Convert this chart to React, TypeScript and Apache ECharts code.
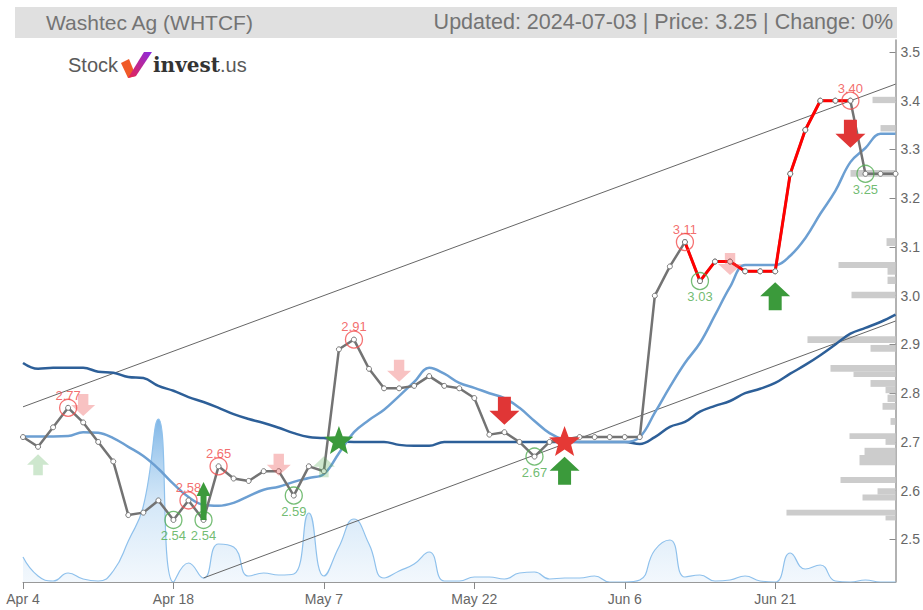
import React, { useEffect, useRef } from "react";
import * as echarts from "echarts";

// ---- data ----
const dates = [
  "Apr 4", "Apr 5", "Apr 8", "Apr 9", "Apr 10", "Apr 11", "Apr 12", "Apr 15", "Apr 16", "Apr 17",
  "Apr 18", "Apr 19", "Apr 22", "Apr 23", "Apr 24", "Apr 25", "Apr 26", "Apr 29", "Apr 30", "May 6",
  "May 7", "May 8", "May 9", "May 10", "May 13", "May 14", "May 15", "May 16", "May 17", "May 21",
  "May 22", "May 23", "May 24", "May 28", "May 29", "May 30", "May 31", "Jun 3", "Jun 4", "Jun 5",
  "Jun 6", "Jun 7", "Jun 10", "Jun 11", "Jun 12", "Jun 13", "Jun 14", "Jun 17", "Jun 18", "Jun 20",
  "Jun 21", "Jun 24", "Jun 25", "Jun 26", "Jun 27", "Jun 28", "Jul 1", "Jul 2", "Jul 3",
];

const price = [
  2.71, 2.69, 2.73, 2.77, 2.74, 2.70, 2.66, 2.55, 2.555, 2.58,
  2.54, 2.58, 2.54, 2.65, 2.625, 2.62, 2.64, 2.64, 2.59, 2.65,
  2.64, 2.89, 2.91, 2.85, 2.81, 2.81, 2.815, 2.835, 2.815, 2.81,
  2.79, 2.715, 2.72, 2.70, 2.67, 2.70, 2.705, 2.71, 2.71, 2.71,
  2.71, 2.71, 3.00, 3.06, 3.11, 3.03, 3.07, 3.07, 3.05, 3.05,
  3.05, 3.25, 3.34, 3.40, 3.40, 3.40, 3.25, 3.25, 3.25,
];

const maShort = [
  2.711, 2.711, 2.711, 2.712, 2.72, 2.719, 2.708, 2.69, 2.671, 2.645,
  2.614, 2.587, 2.571, 2.569, 2.575, 2.589, 2.602, 2.608, 2.618, 2.626,
  2.634, 2.677, 2.72, 2.745, 2.766, 2.794, 2.823, 2.852, 2.84, 2.821,
  2.811, 2.80, 2.79, 2.77, 2.743, 2.718, 2.704, 2.70, 2.70, 2.70,
  2.70, 2.71, 2.76, 2.813, 2.862, 2.903, 2.96, 3.018, 3.063, 3.063,
  3.063, 3.082, 3.118, 3.168, 3.215, 3.274, 3.303, 3.332, 3.332,
];

const maLong = [
  2.862, 2.85, 2.852, 2.852, 2.852, 2.844, 2.842, 2.833, 2.831, 2.815,
  2.805, 2.792, 2.782, 2.77, 2.757, 2.747, 2.739, 2.729, 2.718, 2.71,
  2.708, 2.702, 2.70, 2.70, 2.70, 2.694, 2.692, 2.692, 2.70, 2.70,
  2.70, 2.70, 2.70, 2.70, 2.70, 2.70, 2.70, 2.70, 2.70, 2.70,
  2.70, 2.696, 2.71, 2.731, 2.741, 2.762, 2.774, 2.784, 2.80, 2.809,
  2.821, 2.84, 2.858, 2.878, 2.90, 2.922, 2.934, 2.946, 2.961,
];

const volume = [
  2500, 600, 100, 900, 300, 100, 1100, 4100, 7600, 16300,
  0, 1900, 400, 3800, 3500, 600, 900, 700, 800, 6900,
  600, 3500, 6300, 3800, 400, 1100, 1800, 3000, 100, 100,
  500, 500, 300, 900, 1000, 300, 400, 400, 600, 0,
  0, 200, 3200, 4200, 500, 700, 100, 200, 600, 100,
  0, 2900, 1300, 1700, 100, 0, 200, 0, 0,
];

// volume-by-price profile
const profileLow = [
  3.395, 3.337, 3.244, 3.102, 3.057, 3.043, 3.024, 2.995, 2.903, 2.885,
  2.844, 2.833, 2.813, 2.800, 2.782, 2.766, 2.735, 2.706, 2.694, 2.673,
  2.652, 2.616, 2.592, 2.580, 2.549, 2.539,
];
const profileHigh = [
  3.408, 3.350, 3.258, 3.118, 3.069, 3.057, 3.039, 3.008, 2.917, 2.899,
  2.858, 2.844, 2.827, 2.813, 2.797, 2.780, 2.749, 2.718, 2.706, 2.688,
  2.673, 2.628, 2.605, 2.592, 2.561, 2.549,
];
const profileVol = [
  1150, 750, 2250, 450, 2850, 400, 400, 2200, 4400, 1250,
  3250, 2100, 1250, 500, 400, 650, 250, 2300, 500, 1550,
  1800, 2750, 900, 1650, 5450, 500,
];

const yTicks = [2.5, 2.6, 2.7, 2.8, 2.9, 3.0, 3.1, 3.2, 3.3, 3.4, 3.5];

const upperTrend = [[0, 2.772], [58, 3.434]];
const lowerTrend = [[12, 2.421], [58, 2.948]];

const redSegment = [44, 55];
const highIdx = [3, 11, 13, 22, 44, 55];
const lowIdx = [10, 12, 18, 34, 45, 56];

const buyArrows = [[36, 2.641], [50, 2.999]];
const sellArrows = [[32, 2.764], [55, 3.332]];
const fadedBuyArrows = [[1, 2.653], [20, 2.649]];
const fadedSellArrows = [[4, 2.776], [17, 2.653], [25, 2.846], [47, 3.065]];
const tallBuyArrows = [[12, 2.579]];
const buyStars = [[21, 2.704]];
const sellStars = [[36, 2.702]];

// ---- shapes ----
const UP = "path://M15,0 L30,14 L21.5,14 L21.5,28 L8.5,28 L8.5,14 L0,14 Z";
const DOWN = "path://M8.5,0 L21.5,0 L21.5,14 L30,14 L15,28 L0,14 L8.5,14 Z";
const TALL_UP = "path://M7,0 L14,14 L10,14 L10,38 L4,38 L4,14 L0,14 Z";
const STAR =
  "path://M50,0 L62.34,33.01 L97.55,34.55 L69.97,56.49 L79.39,90.45 L50,71 L20.61,90.45 L30.03,56.49 L2.45,34.55 L37.66,33.01 Z";

const FONT = '"Liberation Sans", Arial, Helvetica, sans-serif';

const toPts = (arr: number[][]) => arr.map(([i, v]) => [dates[i], v]);

export default function App() {
  const ref = useRef<HTMLDivElement>(null);

  useEffect(() => {
    if (!ref.current) return;
    const chart = echarts.init(ref.current, undefined, { renderer: "svg" });

    const redData = price.map((v, i) => (i >= redSegment[0] && i <= redSegment[1] ? v : null));
    const profileData = profileVol.map((v, i) => [v, profileLow[i], profileHigh[i]]);

    const arrowSeries = (data: number[][], symbol: string, size: number[], color: string, z: number) => ({
      type: "scatter",
      data: toPts(data),
      symbol,
      symbolSize: size,
      itemStyle: { color, opacity: 1 },
      z,
      silent: true,
    });

    const option: any = {
      animation: false,
      textStyle: { fontFamily: FONT },
      grid: { left: 23, right: 25, top: 40, bottom: 28, containLabel: false },
      xAxis: [
        {
          type: "category",
          data: dates,
          boundaryGap: false,
          axisLine: { lineStyle: { color: "#999", width: 1 } },
          axisTick: { interval: 9, length: 7, lineStyle: { color: "#888" } },
          axisLabel: { interval: 9, color: "#666", fontSize: 14, margin: 10 },
          splitLine: { show: false },
        },
        {
          type: "value",
          inverse: true,
          min: 0,
          max: (e: any) => e.max * 8,
          show: false,
          splitLine: { show: false },
        },
      ],
      yAxis: [
        {
          type: "value",
          position: "right",
          min: 2.4127,
          max: 3.5245,
          axisLine: { show: true, lineStyle: { color: "#999", width: 1.5 } },
          axisTick: { show: true, inside: true, length: 6, customValues: yTicks, lineStyle: { color: "#888" } },
          axisLabel: { color: "#666", fontSize: 14, margin: 5, customValues: yTicks, formatter: (v: number) => v.toFixed(1) },
          splitLine: { show: false },
        },
        {
          type: "value",
          min: 0,
          max: (e: any) => e.max * 3.325,
          show: false,
          splitLine: { show: false },
        },
      ],
      series: [
        {
          type: "line",
          name: "volume",
          data: volume,
          xAxisIndex: 0,
          yAxisIndex: 1,
          smooth: true,
          symbol: "none",
          lineStyle: { color: "#8fc1ec", width: 1.2 },
          areaStyle: {
            color: new echarts.graphic.LinearGradient(0, 0, 0, 1, [
              { offset: 0, color: "rgba(64,146,218,0.95)" },
              { offset: 0.5, color: "rgba(140,192,236,0.55)" },
              { offset: 1, color: "rgba(215,232,248,0.45)" },
            ]),
          },
          z: 1,
          silent: true,
        },
        {
          type: "custom",
          name: "profile",
          xAxisIndex: 1,
          yAxisIndex: 0,
          data: profileData,
          encode: { x: 0, y: [1, 2] },
          renderItem: (params: any, api: any) => {
            const a = api.coord([api.value(0), api.value(2)]);
            const b = api.coord([0, api.value(1)]);
            return {
              type: "rect",
              shape: { x: a[0], y: a[1], width: b[0] - a[0], height: b[1] - a[1] },
              style: { fill: "#cccccc" },
            };
          },
          z: 1,
          silent: true,
        },
        {
          type: "line",
          data: toPts(upperTrend),
          symbol: "none",
          lineStyle: { color: "#666", width: 1 },
          z: 2,
          silent: true,
        },
        {
          type: "line",
          data: toPts(lowerTrend),
          symbol: "none",
          lineStyle: { color: "#666", width: 1 },
          z: 2,
          silent: true,
        },
        {
          type: "line",
          data: maLong,
          smooth: 0.4,
          symbol: "none",
          lineStyle: { color: "#2d5f98", width: 2.5 },
          z: 3,
          silent: true,
        },
        {
          type: "line",
          data: maShort,
          smooth: 0.4,
          symbol: "none",
          lineStyle: { color: "#6c9fd2", width: 2.5 },
          z: 3,
          silent: true,
        },
        {
          type: "line",
          data: price,
          symbol: "circle",
          symbolSize: 5,
          showAllSymbol: true,
          lineStyle: { color: "#737373", width: 2.5 },
          itemStyle: { color: "#ffffff", borderColor: "#777", borderWidth: 1 },
          z: 4,
          silent: true,
        },
        {
          type: "line",
          data: redData,
          symbol: "circle",
          symbolSize: 5,
          showAllSymbol: true,
          connectNulls: false,
          lineStyle: { color: "#ff0000", width: 3 },
          itemStyle: { color: "#ffffff", borderColor: "#777", borderWidth: 1 },
          z: 4,
          silent: true,
        },
        {
          type: "scatter",
          data: highIdx.map((i) => [dates[i], price[i]]),
          symbol: "circle",
          symbolSize: 17,
          itemStyle: { color: "rgba(0,0,0,0)", borderColor: "#f25050", borderWidth: 1.3 },
          label: {
            show: true,
            position: "top",
            distance: -3,
            color: "#f04848",
            fontSize: 13,
            formatter: (p: any) => Number(p.value[1]).toFixed(2),
          },
          z: 5,
          silent: true,
        },
        {
          type: "scatter",
          data: lowIdx.map((i) => [dates[i], price[i]]),
          symbol: "circle",
          symbolSize: 17,
          itemStyle: { color: "rgba(0,0,0,0)", borderColor: "#52ad52", borderWidth: 1.3 },
          label: {
            show: true,
            position: "bottom",
            distance: 0,
            color: "#4caa4c",
            fontSize: 13,
            formatter: (p: any) => Number(p.value[1]).toFixed(2),
          },
          z: 5,
          silent: true,
        },
        arrowSeries(fadedBuyArrows, UP, [22, 21], "rgba(80,170,80,0.28)", 6),
        arrowSeries(fadedSellArrows, DOWN, [24, 22], "rgba(235,80,80,0.35)", 6),
        arrowSeries(buyArrows, UP, [30, 28], "#3b9a3b", 6),
        arrowSeries(sellArrows, DOWN, [30, 28], "#e03636", 6),
        arrowSeries(tallBuyArrows, TALL_UP, [14, 38], "#3b9a3b", 6),
        arrowSeries(buyStars, STAR, [29, 28], "#3b9a3b", 7),
        arrowSeries(sellStars, STAR, [31, 30], "#e53935", 7),
      ],
      graphic: [
        {
          type: "rect",
          shape: { x: 15, y: 7, width: 882, height: 31 },
          style: { fill: "#e0e0e0" },
          silent: true,
        },
        {
          type: "text",
          x: 46,
          y: 22,
          style: { text: "Washtec Ag (WHTCF)", font: `21px ${FONT}`, fill: "#747474", verticalAlign: "middle", align: "left" },
          silent: true,
        },
        {
          type: "text",
          x: 893,
          y: 22,
          style: {
            text: "Updated: 2024-07-03 | Price: 3.25 | Change: 0%",
            font: `21.5px ${FONT}`,
            fill: "#747474",
            verticalAlign: "middle",
            align: "right",
          },
          silent: true,
        },
        {
          type: "text",
          x: 68,
          y: 65,
          style: { text: "Stock", font: `20px ${FONT}`, fill: "#5a5a5a", verticalAlign: "middle", align: "left" },
          silent: true,
        },
        {
          type: "polygon",
          shape: { points: [[121, 63], [129, 59], [136, 76], [128, 78]] },
          style: { fill: "#f05a28" },
          silent: true,
        },
        {
          type: "polygon",
          shape: { points: [[128, 78], [136, 76], [152, 52], [144, 52]] },
          style: {
            fill: new echarts.graphic.LinearGradient(0, 1, 1, 0, [
              { offset: 0, color: "#e8244f" },
              { offset: 1, color: "#8a2be2" },
            ]),
          },
          silent: true,
        },
        {
          type: "text",
          x: 153,
          y: 65,
          style: { text: "invest", font: `bold 20px "DejaVu Serif", serif`, fill: "#333", verticalAlign: "middle", align: "left" },
          silent: true,
        },
        {
          type: "text",
          x: 220,
          y: 65,
          style: { text: ".us", font: `20px ${FONT}`, fill: "#5a5a5a", verticalAlign: "middle", align: "left" },
          silent: true,
        },
      ],
    };

    chart.setOption(option);
    return () => chart.dispose();
  }, []);

  return (
    <div
      ref={ref}
      style={{ position: "absolute", left: 0, top: 0, width: 923, height: 610, background: "#fff" }}
    />
  );
}
